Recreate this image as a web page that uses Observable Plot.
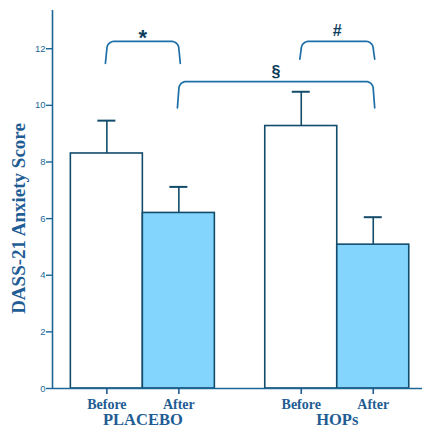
<!DOCTYPE html>
<html>
<head>
<meta charset="utf-8">
<script src="https://cdn.jsdelivr.net/npm/d3@7"></script>
<script src="https://cdn.jsdelivr.net/npm/@observablehq/plot@0.6"></script>
<style>
  html, body { margin: 0; padding: 0; background: #ffffff; }
  #chart svg { display: block; }
</style>
</head>
<body>
<div id="chart"></div>
<script>
// DASS-21 anxiety scores, before and after, per treatment group
const groups = ["PLACEBO", "HOPs"];
const phases = ["Before", "After"];
const meanScore = [8.3, 6.2, 9.27, 5.08];
const errorScore = [1.16, 0.92, 1.21, 0.97];
const yTickValues = [0, 2, 4, 6, 8, 10, 12];

// significance brackets: bar index at each end, bracket level, leg level, symbol
const bracketFrom = [0, 1, 2];
const bracketTo = [1, 3, 3];
const bracketTop = [12.26, 10.84, 12.26];
const bracketFoot = [11.48, 9.91, 11.63];
const bracketSymbol = ["*", "§", "#"];

// layout: bars are one unit wide, groups are spaced a little apart
const GROUP_STEP = 2.7;
const X_DOMAIN = [-0.755, 4.384];
const Y_DOMAIN = [0, 13.35];

const LINE = "#134b6b";
const AXIS = "#1d6797";
const TEXT = "#1f5d94";
const BRACKET = "#1d6fa8";
const SERIF = "'Liberation Serif', 'Times New Roman', serif";
const SANS = "'Liberation Sans', Arial, sans-serif";

const bars = meanScore.map((mean, i) => ({
  group: groups[Math.floor(i / 2)],
  phase: phases[i % 2],
  mean,
  err: errorScore[i],
  slot: Math.floor(i / 2) * GROUP_STEP + (i % 2)
}));
const slotLabel = new Map(bars.map(d => [d.slot, d.phase]));

const brackets = bracketFrom.map((from, i) => ({
  a: bars[from].slot,
  b: bars[bracketTo[i]].slot,
  top: bracketTop[i],
  foot: bracketFoot[i],
  symbol: bracketSymbol[i]
}));

// bracket outline: straight top, rounded shoulders, legs flaring slightly outward
const bracketPath = brackets.flatMap((br, id) => {
  const rx = 0.1, ry = 0.26, flare = 0.02, steps = 10;
  const pts = [[br.a - flare, br.foot]];
  for (let k = 0; k <= steps; k++) {
    const t = (k / steps) * Math.PI / 2;
    pts.push([br.a + rx - rx * Math.cos(t), br.top - ry + ry * Math.sin(t)]);
  }
  for (let k = steps; k >= 0; k--) {
    const t = (k / steps) * Math.PI / 2;
    pts.push([br.b - rx + rx * Math.cos(t), br.top - ry + ry * Math.sin(t)]);
  }
  pts.push([br.b + flare, br.foot]);
  return pts.map(([x, y]) => ({id, x, y}));
});

const symbolText = {
  x: d => (d.a + d.b) / 2, y: "top", text: "symbol",
  fill: "#0e3d5c", fontWeight: "bold", fontFamily: SANS
};

const chart = Plot.plot({
  width: 422,
  height: 428,
  marginLeft: 52,
  marginRight: 0,
  marginTop: 10,
  marginBottom: 40,
  style: {background: "#ffffff"},
  x: {type: "linear", domain: X_DOMAIN},
  y: {domain: Y_DOMAIN},
  color: {domain: phases, range: ["#ffffff", "#84d5fd"]},
  marks: [
    // error bars (upper half only)
    Plot.ruleX(bars, {x: "slot", y1: "mean", y2: d => d.mean + d.err, stroke: LINE, strokeWidth: 1.6}),
    Plot.ruleY(bars, {y: d => d.mean + d.err, x1: d => d.slot - 0.125, x2: d => d.slot + 0.125, stroke: LINE, strokeWidth: 2}),
    // bars
    Plot.rectY(bars, {x1: d => d.slot - 0.5, x2: d => d.slot + 0.5, y1: 0, y2: "mean", fill: "phase", stroke: LINE, strokeWidth: 1.6}),
    // axes
    Plot.ruleX([X_DOMAIN[0]], {stroke: AXIS, strokeWidth: 1.6}),
    Plot.ruleY([0], {stroke: AXIS, strokeWidth: 1.6}),
    Plot.axisY({
      ticks: yTickValues, tickSize: 6, tickPadding: 1, color: AXIS, strokeWidth: 1.4,
      fontSize: 9.5, fontFamily: SANS, label: null
    }),
    Plot.axisX({
      ticks: bars.map(d => d.slot), tickFormat: d => slotLabel.get(d),
      tickSize: 6, tickPadding: 5, color: TEXT, strokeWidth: 1.6,
      fontSize: 14, fontWeight: "bold", fontFamily: SERIF, label: null
    }),
    Plot.text(groups, {
      x: (d, i) => i * GROUP_STEP + 0.5, frameAnchor: "bottom", dy: 25, lineAnchor: "top",
      fill: TEXT, fontSize: 16.5, fontWeight: "bold", fontFamily: SERIF
    }),
    Plot.text(["DASS-21 Anxiety Score"], {
      frameAnchor: "left", dx: -34, dy: 19, rotate: -90, textAnchor: "middle",
      fill: TEXT, fontSize: 19, fontWeight: "bold", fontFamily: SERIF
    }),
    // significance brackets
    Plot.line(bracketPath, {x: "x", y: "y", z: "id", stroke: BRACKET, strokeWidth: 1.7}),
    Plot.text(brackets.filter(d => d.symbol === "*"), {...symbolText, dy: -3, fontSize: 22}),
    Plot.text(brackets.filter(d => d.symbol !== "*"), {...symbolText, dy: -10, fontSize: 16})
  ]
});

document.getElementById("chart").append(chart);
</script>
</body>
</html>
